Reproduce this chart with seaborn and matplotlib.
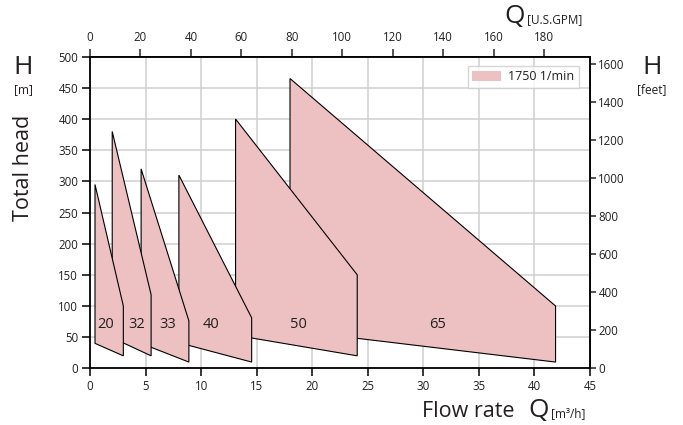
import matplotlib
matplotlib.use("Agg")
import matplotlib.pyplot as plt
import seaborn as sns
import pandas as pd

# pump models and their operating areas (Q in m3/h, H in m)
models = ["20", "32", "33", "40", "50", "65"]
q_min = [0.45, 2.0, 4.6, 8.0, 13.1, 18.0]
q_max = [3.0, 5.5, 8.9, 14.55, 24.05, 41.9]
h_top_left = [295, 380, 320, 310, 400, 465]
h_top_right = [100, 118, 76, 81, 150, 100]
h_bot_left = [40, 49, 40, 41, 53, 61]
h_bot_right = [20, 20, 10, 10, 20, 10]
label_q = [1.45, 4.2, 7.0, 10.9, 18.8, 31.3]
label_h = 70

x_ticks = [0, 5, 10, 15, 20, 25, 30, 35, 40, 45]
y_ticks = [0, 50, 100, 150, 200, 250, 300, 350, 400, 450, 500]
gpm_ticks = [0, 20, 40, 60, 80, 100, 120, 140, 160, 180]
feet_ticks = [0, 200, 400, 600, 800, 1000, 1200, 1400, 1600]

speed_label = "1750 1/min"

GPM_PER_M3H = 4.4029
FT_PER_M = 3.28084

sns.set_theme(style="ticks")
plt.rcParams["font.family"] = ["Open Sans", "DejaVu Sans"]

fill_col = "#EDC0C2"
text_col = "#231f20"
tick_fs = 8.3

fig = plt.figure(figsize=(6.83, 4.25), dpi=100)
ax = fig.add_axes([90 / 683, 1 - 368.3 / 425, 500 / 683, 311.6 / 425])

# build a table of polygon vertices, one block per model
rows = []
for i, m in enumerate(models):
    pts = [(q_min[i], h_bot_left[i]), (q_min[i], h_top_left[i]),
           (q_max[i], h_top_right[i]), (q_max[i], h_bot_right[i])]
    for j, (q, h) in enumerate(pts):
        rows.append({"model": m, "order": j, "Q": q, "H": h})
df = pd.DataFrame(rows)

# draw biggest first so the smaller areas sit on top
for n, m in enumerate(reversed(models)):
    d = df[df["model"] == m]
    ax.fill(d["Q"], d["H"], facecolor=fill_col, edgecolor="black",
            linewidth=0.8, zorder=2 + n,
            label=speed_label if m == "65" else None)

for m, q in zip(models, label_q):
    ax.text(q, label_h, m, ha="center", va="center", fontsize=10.5,
            color=text_col, zorder=20)

ax.set_xlim(0, 45)
ax.set_ylim(0, 500)
ax.set_xticks(x_ticks)
ax.set_yticks(y_ticks)
ax.grid(True, color="#d0d0d0", linewidth=1.1, zorder=0)
ax.set_axisbelow(True)
for s in ax.spines.values():
    s.set_linewidth(1.3)
    s.set_color("black")
ax.tick_params(axis="both", labelsize=tick_fs, labelcolor=text_col,
               length=5.5, width=1.1, color="black", pad=3)

top = ax.secondary_xaxis("top", functions=(lambda q: q * GPM_PER_M3H,
                                           lambda g: g / GPM_PER_M3H))
top.set_xticks(gpm_ticks)
top.tick_params(labelsize=tick_fs, labelcolor=text_col, length=6, width=1.1, pad=3)
top.spines["top"].set_linewidth(1.3)

right = ax.secondary_yaxis("right", functions=(lambda h: h * FT_PER_M,
                                               lambda f: f / FT_PER_M))
right.set_yticks(feet_ticks)
right.tick_params(labelsize=tick_fs, labelcolor=text_col, length=4, width=1.1, pad=2)
right.spines["right"].set_linewidth(1.3)

leg = ax.legend(loc="upper right", fontsize=9, frameon=True, fancybox=False,
                handlelength=2.3, handleheight=0.75, borderpad=0.35,
                handletextpad=0.6, borderaxespad=0,
                bbox_to_anchor=(0.978, 0.970))
leg.get_frame().set_edgecolor("#cccccc")
leg.get_frame().set_linewidth(1.0)
for h in leg.legend_handles:
    h.set_edgecolor("none")
for t in leg.get_texts():
    t.set_color(text_col)

# axis titles
fig.text(23 / 683, 1 - 67 / 425, "H", fontsize=19, ha="center", va="center", color=text_col)
fig.text(23 / 683, 1 - 90 / 425, "[m]", fontsize=8.5, ha="center", va="center", color=text_col)
fig.text(24 / 683, 1 - 168 / 425, "Total head", fontsize=15.5, rotation=90,
         ha="center", va="center", color=text_col)
fig.text(652 / 683, 1 - 67 / 425, "H", fontsize=19, ha="center", va="center", color=text_col)
fig.text(652 / 683, 1 - 90 / 425, "[feet]", fontsize=8.5, ha="center", va="center", color=text_col)
fig.text(525 / 683, 1 - 23 / 425, "Q", fontsize=19, ha="right", va="baseline", color=text_col)
fig.text(527 / 683, 1 - 23 / 425, "[U.S.GPM]", fontsize=8.5, ha="left", va="baseline", color=text_col)
fig.text(515 / 683, 1 - 417 / 425, "Flow rate", fontsize=15.5, ha="right", va="baseline", color=text_col)
fig.text(549 / 683, 1 - 417 / 425, "Q", fontsize=19, ha="right", va="baseline", color=text_col)
fig.text(551 / 683, 1 - 417 / 425, "[m³/h]", fontsize=8.5, ha="left", va="baseline", color=text_col)

fig.savefig("out.png", dpi=100)
